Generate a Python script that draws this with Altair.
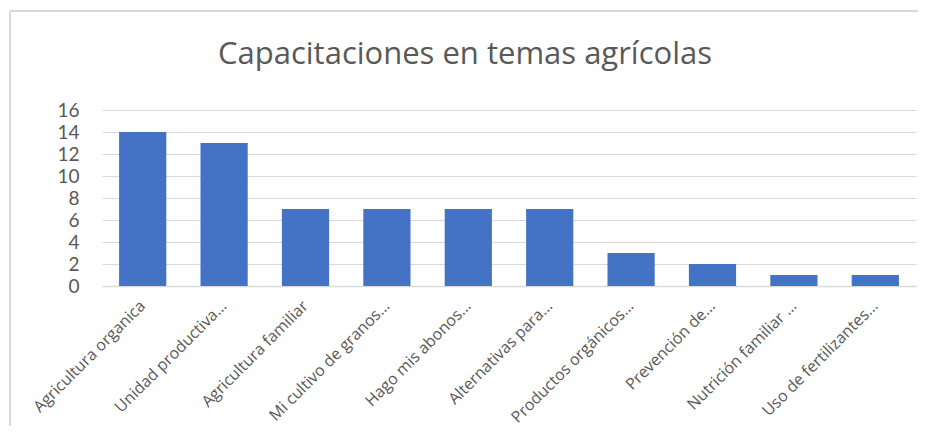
import altair as alt
import pandas as pd

categories = [
    "Agricultura organica",
    "Unidad productiva…",
    "Agricultura familiar",
    "Mi cultivo de granos…",
    "Hago mis abonos…",
    "Alternativas para…",
    "Productos orgánicos…",
    "Prevención de…",
    "Nutrición familiar …",
    "Uso de fertilizantes…",
]
values = [14, 13, 7, 7, 7, 7, 3, 2, 1, 1]
y_ticks = [0, 2, 4, 6, 8, 10, 12, 14, 16]

df = pd.DataFrame({"cat": categories, "val": values})

GRAY = "#595959"

bars = alt.Chart(df).mark_bar(color="#4472c4").encode(
    x=alt.X("cat:N", sort=categories, title=None,
            scale=alt.Scale(paddingInner=0.42, paddingOuter=0.21),
            axis=alt.Axis(labelAngle=-45, labelAlign="right", labelBaseline="middle",
                          labelFontSize=16, labelColor=GRAY, labelFont="Open Sans",
                          labelPadding=17, ticks=False, domainColor="#d9d9d9",
                          domainWidth=1.5, labelLimit=300)),
    y=alt.Y("val:Q", title=None,
            scale=alt.Scale(domain=[0, 16], nice=False),
            axis=alt.Axis(values=y_ticks, labelFontSize=19, labelColor=GRAY,
                          labelFont="Lato", labelPadding=23, ticks=False, domain=False,
                          gridColor="#d9d9d9", gridWidth=1.2)),
)

frame_left = alt.Chart(df).mark_rule(color="#d9d9d9", strokeWidth=1.5).encode(
    x=alt.value(-92), y=alt.value(-99), y2=alt.value(330)
)
frame_top = alt.Chart(df).mark_rule(color="#d9d9d9", strokeWidth=1.5).encode(
    x=alt.value(-92), x2=alt.value(820), y=alt.value(-99)
)

chart = alt.layer(frame_left, frame_top, bars).properties(
    width=814, height=176,
    background="white",
    autosize=alt.AutoSizeParams(type="none"),
    padding={"left": 94, "top": 102, "right": 2, "bottom": 140},
    title=alt.TitleParams("Capacitaciones en temas agrícolas", fontSize=31,
                          font="Open Sans", fontWeight="normal", color=GRAY,
                          anchor="middle", frame="group", dx=-44,
                          baseline="alphabetic", offset=-85),
).configure_view(stroke=None)

chart.save("out.html", embed_options={"renderer": "svg", "actions": False})
